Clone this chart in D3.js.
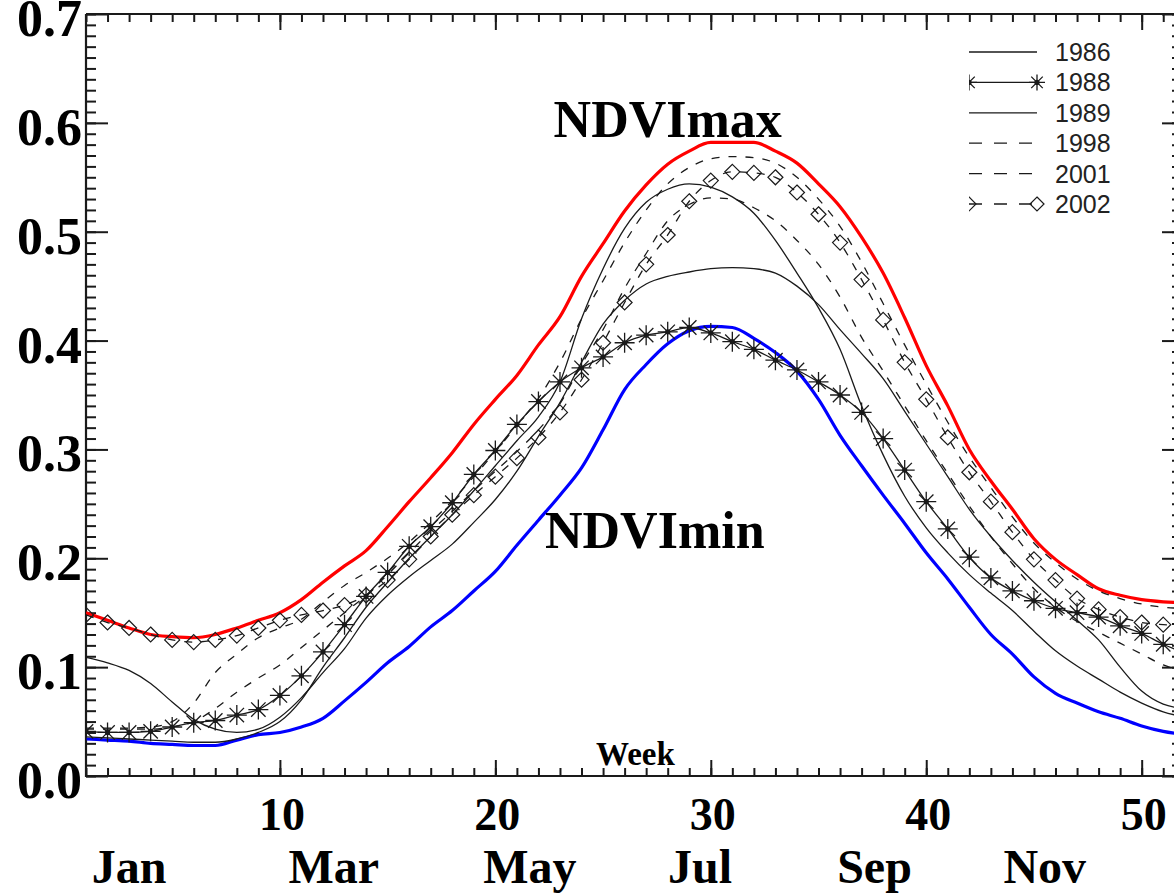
<!DOCTYPE html>
<html><head><meta charset="utf-8">
<script src="https://cdn.jsdelivr.net/npm/d3@7"></script>
<style>body{margin:0;background:#fff}svg{display:block}</style>
</head><body><svg id="c" width="1174" height="894"></svg>
<script>
// ---------------- data ----------------
const weeks = d3.range(1, 53);
const ndviMax = [0.150,0.143,0.136,0.130,0.128,0.127,0.130,0.136,0.143,0.150,
  0.162,0.178,0.193,0.207,0.229,0.252,0.274,0.297,0.323,0.346,
  0.368,0.396,0.422,0.459,0.489,0.519,0.543,0.562,0.574,0.582,
  0.582,0.582,0.574,0.563,0.544,0.523,0.495,0.462,0.421,0.377,
  0.340,0.300,0.271,0.245,0.218,0.199,0.185,0.172,0.166,0.162,
  0.160,0.159];
const ndviMin = [0.034,0.033,0.032,0.030,0.029,0.028,0.028,0.033,0.038,0.040,
  0.045,0.053,0.069,0.086,0.104,0.119,0.137,0.152,0.170,0.188,
  0.212,0.235,0.258,0.283,0.318,0.355,0.378,0.397,0.409,0.413,
  0.412,0.402,0.389,0.372,0.346,0.313,0.285,0.258,0.232,0.205,
  0.181,0.155,0.130,0.112,0.091,0.076,0.067,0.059,0.053,0.046,
  0.041,0.038];
const y1986 = [0.109,0.104,0.097,0.085,0.068,0.052,0.043,0.040,0.043,0.054,
  0.072,0.095,0.117,0.145,0.166,0.183,0.198,0.213,0.233,0.254,
  0.280,0.312,0.343,0.380,0.415,0.437,0.452,0.459,0.463,0.466,
  0.467,0.466,0.462,0.450,0.433,0.410,0.388,0.365,0.335,0.305,
  0.275,0.245,0.220,0.198,0.178,0.160,0.143,0.125,0.100,0.078,
  0.066,0.062];
const y1988 = [0.041,0.040,0.040,0.041,0.045,0.049,0.051,0.056,0.061,0.074,
  0.092,0.114,0.139,0.165,0.187,0.211,0.229,0.251,0.277,0.299,
  0.323,0.344,0.362,0.375,0.385,0.398,0.405,0.408,0.412,0.407,
  0.399,0.392,0.382,0.373,0.362,0.350,0.334,0.310,0.281,0.252,
  0.227,0.201,0.182,0.170,0.161,0.154,0.150,0.146,0.138,0.131,
  0.121,0.113];
const y1989 = [0.036,0.035,0.034,0.033,0.032,0.031,0.031,0.034,0.040,0.050,
  0.070,0.100,0.127,0.155,0.178,0.200,0.220,0.240,0.262,0.285,
  0.308,0.330,0.362,0.420,0.466,0.503,0.527,0.539,0.544,0.541,
  0.532,0.517,0.492,0.462,0.430,0.392,0.340,0.295,0.257,0.228,
  0.205,0.185,0.168,0.152,0.133,0.115,0.101,0.089,0.077,0.067,
  0.059,0.054];
const y1998 = [0.044,0.044,0.044,0.045,0.050,0.067,0.095,0.112,0.127,0.136,
  0.144,0.160,0.175,0.187,0.200,0.215,0.233,0.253,0.275,0.298,
  0.322,0.347,0.380,0.420,0.455,0.490,0.520,0.544,0.559,0.567,
  0.569,0.568,0.563,0.550,0.530,0.505,0.472,0.434,0.396,0.360,
  0.325,0.293,0.265,0.238,0.214,0.196,0.181,0.170,0.163,0.158,
  0.155,0.154];
const y2001 = [0.043,0.043,0.043,0.043,0.045,0.050,0.062,0.077,0.090,0.102,
  0.118,0.134,0.150,0.166,0.185,0.205,0.225,0.243,0.262,0.280,
  0.298,0.318,0.342,0.378,0.410,0.448,0.480,0.510,0.525,0.531,
  0.530,0.522,0.510,0.492,0.470,0.440,0.403,0.372,0.340,0.308,
  0.278,0.248,0.220,0.195,0.172,0.155,0.142,0.132,0.122,0.112,
  0.102,0.096];
const y2002 = [0.148,0.141,0.136,0.130,0.125,0.123,0.125,0.129,0.136,0.143,
  0.148,0.152,0.157,0.166,0.180,0.199,0.220,0.240,0.258,0.275,
  0.292,0.311,0.334,0.364,0.398,0.435,0.470,0.497,0.528,0.547,
  0.555,0.554,0.550,0.536,0.516,0.490,0.456,0.419,0.380,0.346,
  0.311,0.279,0.252,0.224,0.199,0.180,0.163,0.153,0.146,0.141,
  0.139,0.138];

const yTicks = [0,0.1,0.2,0.3,0.4,0.5,0.6,0.7];
const yTickLabels = ["0.0","0.1","0.2","0.3","0.4","0.5","0.6","0.7"];
const xTicks = [10,20,30,40,50];
const months = ["Jan","Mar","May","Jul","Sep","Nov"];
const monthPos = [3.0,12.5,21.6,29.5,37.6,45.5];
const legendNames = ["1986","1988","1989","1998","2001","2002"];
const annoText = ["NDVImax","NDVImin"];
const annoWeek = [28.0,27.4];
const annoVal = [0.587,0.2096];

// ---------------- chart ----------------
const svg = d3.select("#c");
const L=86, R=1174, T=14, B=776;
const x = d3.scaleLinear().domain([1,51.5]).range([L,R]);
const y = d3.scaleLinear().domain([0,0.7]).range([B,T]);
const ink = "#1a1a1a";
const serif = "'Liberation Serif','Times New Roman',serif";

svg.append("rect").attr("width",1174).attr("height",894).attr("fill","#fff");

const defs = svg.append("defs");
defs.append("clipPath").attr("id","plot").append("rect")
  .attr("x",L).attr("y",T).attr("width",R-L).attr("height",B-T);
defs.append("clipPath").attr("id","leg").append("rect")
  .attr("x",969).attr("y",30).attr("width",205).attr("height",200);

// axes (ticks pointing inward)
function styleAxis(g){ g.selectAll("line").attr("stroke",ink).attr("stroke-width",2);
  g.select(".domain").remove(); g.selectAll("text").remove(); }
const yMinor = d3.range(0,0.7001,0.01);
const xMinor = d3.range(1,52,1);
svg.append("g").attr("transform",`translate(${L},0)`)
  .call(d3.axisRight(y).tickValues(yMinor).tickSize(10)).call(styleAxis);
svg.append("g").attr("transform",`translate(${L},0)`)
  .call(d3.axisRight(y).tickValues(yTicks).tickSize(22)).call(styleAxis);
svg.append("g").attr("transform",`translate(${R},0)`)
  .call(d3.axisLeft(y).tickValues(yMinor).tickSize(2)).call(styleAxis);
svg.append("g").attr("transform",`translate(${R},0)`)
  .call(d3.axisLeft(y).tickValues(yTicks).tickSize(12)).call(styleAxis);
svg.append("g").attr("transform",`translate(0,${B})`)
  .call(d3.axisTop(x).tickValues(xMinor).tickSize(8)).call(styleAxis);
svg.append("g").attr("transform",`translate(0,${B})`)
  .call(d3.axisTop(x).tickValues(xTicks).tickSize(16)).call(styleAxis);
svg.append("g").attr("transform",`translate(0,${T})`)
  .call(d3.axisBottom(x).tickValues(xMinor).tickSize(8)).call(styleAxis);
svg.append("g").attr("transform",`translate(0,${T})`)
  .call(d3.axisBottom(x).tickValues(xTicks).tickSize(16)).call(styleAxis);
// frame
svg.append("path").attr("d",`M${L},${T}L${L},${B}L${R},${B}M${L},${T}L${R},${T}`)
  .attr("fill","none").attr("stroke",ink).attr("stroke-width",2.2);

// tick labels
svg.append("g").selectAll("text").data(yTicks).join("text")
  .attr("x",L-4).attr("y",d=>y(d)+22).attr("text-anchor","end")
  .attr("font-family",serif).attr("font-weight","bold").attr("font-size",52).attr("fill","#000")
  .text((d,i)=>yTickLabels[i]);
svg.append("g").selectAll("text").data(xTicks).join("text")
  .attr("x",d=>x(d)+2).attr("y",830).attr("text-anchor","middle")
  .attr("font-family",serif).attr("font-weight","bold").attr("font-size",46).attr("fill","#000")
  .text(d=>d);
svg.append("g").selectAll("text").data(months).join("text")
  .attr("x",(d,i)=>x(monthPos[i])).attr("y",883).attr("text-anchor","middle")
  .attr("font-family",serif).attr("font-weight","bold").attr("font-size",48).attr("fill","#000")
  .text(d=>d);
svg.append("text").attr("x",x(26.5)).attr("y",765).attr("text-anchor","middle")
  .attr("font-family",serif).attr("font-weight","bold").attr("font-size",33).attr("fill","#000")
  .text("Week");

// lines
const plot = svg.append("g").attr("clip-path","url(#plot)");
const line = d3.line().x((d,i)=>x(weeks[i])).y(d=>y(d)).curve(d3.curveMonotoneX);
const series = [
  {v:ndviMax, c:"#ff0000", w:3.2},
  {v:ndviMin, c:"#0000ff", w:3.2},
  {v:y1986, c:ink, w:1.3},
  {v:y1989, c:ink, w:1.3},
  {v:y1988, c:ink, w:1.3, m:"ast"},
  {v:y1998, c:ink, w:1.3, dash:"8,9"},
  {v:y2001, c:ink, w:1.3, dash:"8,9"},
  {v:y2002, c:ink, w:1.3, dash:"8,9", m:"dia"}
];
const ast = r => { const a=r*0.72; return `M${-r},0L${r},0M0,${-r}L0,${r}M${-a},${-a}L${a},${a}M${-a},${a}L${a},${-a}`; };
const dia = r => `M0,${-r}L${r},0L0,${r}L${-r},0Z`;
function marker(g, type, r){
  if(type==="ast"){
    g.append("path").attr("d",ast(r)).attr("stroke",ink).attr("stroke-width",1.3).attr("fill","none");
    g.append("circle").attr("r",2.6).attr("fill",ink);
  } else {
    g.append("path").attr("d",dia(r)).attr("stroke",ink).attr("stroke-width",1.2).attr("fill","none");
  }
}
series.forEach(s=>{
  plot.append("path").attr("d",line(s.v)).attr("fill","none").attr("stroke",s.c)
    .attr("stroke-width",s.w).attr("stroke-dasharray",s.dash||null).attr("stroke-linejoin","round");
  if(s.m){
    plot.append("g").selectAll("g").data(s.v).join("g")
      .attr("transform",(d,i)=>`translate(${x(weeks[i])},${y(d)})`)
      .each(function(){ marker(d3.select(this), s.m, s.m==="ast"?10:7.5); });
  }
});

// annotations
svg.append("g").selectAll("text").data(annoText).join("text")
  .attr("x",(d,i)=>x(annoWeek[i])).attr("y",(d,i)=>y(annoVal[i])).attr("text-anchor","middle")
  .attr("font-family",serif).attr("font-weight","bold").attr("font-size",52).attr("fill","#000")
  .text(d=>d);

// legend
const legStyles = [{},{m:"ast"},{},{dash:"13,12"},{dash:"13,12"},{dash:"13,12",m:"dia"}];
const lg = svg.append("g");
const lgc = lg.append("g").attr("clip-path","url(#leg)");
legendNames.forEach((n,i)=>{
  const yy = 52 + i*30.4;
  const st = legStyles[i];
  lgc.append("line").attr("x1",969).attr("x2",1037).attr("y1",yy).attr("y2",yy)
    .attr("stroke",ink).attr("stroke-width",1.3).attr("stroke-dasharray",st.dash||null);
  if(st.m){
    [969,1037].forEach(px=>{
      const g = lgc.append("g").attr("transform",`translate(${px},${yy})`);
      marker(g, st.m, st.m==="ast"?8:7);
    });
  }
  lg.append("text").attr("x",1055).attr("y",yy+9)
    .attr("font-family","'Liberation Sans',Arial,sans-serif").attr("font-size",25)
    .attr("fill","#222").text(n);
});
</script></body></html>
